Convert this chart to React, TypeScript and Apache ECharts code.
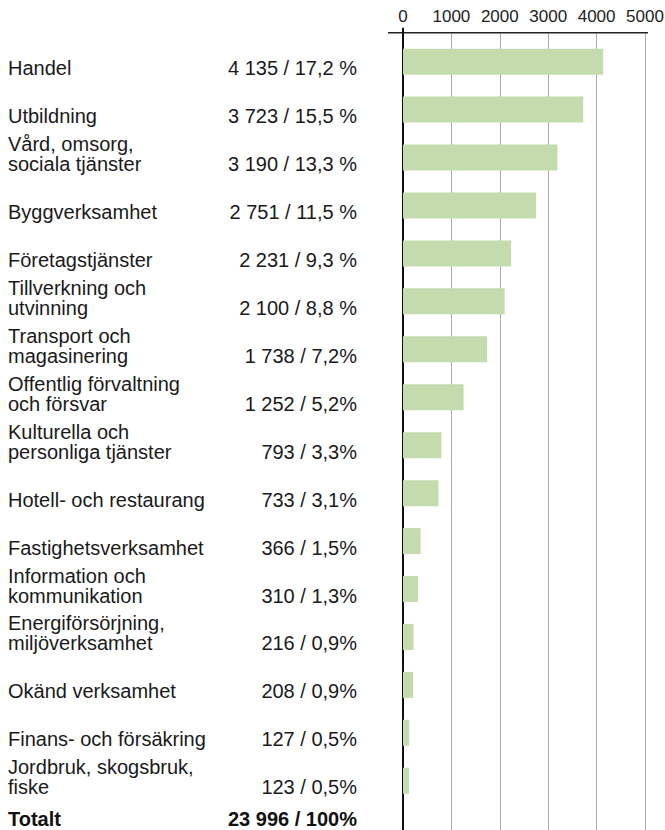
import React, { useEffect, useRef } from "react";
import * as echarts from "echarts";

const categories: string[] = [
  "Handel",
  "Utbildning",
  "Vård, omsorg,\nsociala tjänster",
  "Byggverksamhet",
  "Företagstjänster",
  "Tillverkning och\nutvinning",
  "Transport och\nmagasinering",
  "Offentlig förvaltning\noch försvar",
  "Kulturella och\npersonliga tjänster",
  "Hotell- och restaurang",
  "Fastighetsverksamhet",
  "Information och\nkommunikation",
  "Energiförsörjning,\nmiljöverksamhet",
  "Okänd verksamhet",
  "Finans- och försäkring",
  "Jordbruk, skogsbruk,\nfiske",
];
const values: number[] = [4135, 3723, 3190, 2751, 2231, 2100, 1738, 1252, 793, 733, 366, 310, 216, 208, 127, 123];
const percentLabels: string[] = [
  "17,2 %", "15,5 %", "13,3 %", "11,5 %", "9,3 %", "8,8 %", "7,2%", "5,2%",
  "3,3%", "3,1%", "1,5%", "1,3%", "0,9%", "0,9%", "0,5%", "0,5%",
];
const totalLabel = "Totalt";
const totalValue = 23996;
const totalPercent = "100%";
const xTicks = { min: 0, max: 5000, interval: 1000 };

const fmt = (v: number) => {
  const s = String(v);
  return s.replace(/\B(?=(\d{3})+(?!\d))/g, " ");
};

export default function App() {
  const ref = useRef<HTMLDivElement>(null);
  useEffect(() => {
    if (!ref.current) return;
    const chart = echarts.init(ref.current, undefined, { renderer: "svg" });
    const yCats = [...categories, totalLabel];
    const labelMap: Record<string, string> = {};
    categories.forEach((c, i) => {
      const lines = c.split("\n");
      const val = `${fmt(values[i])} / ${percentLabels[i]}`;
      if (lines.length === 1) {
        labelMap[c] = `{name| }\n{name|${lines[0]}}{val|${val}}`;
      } else {
        labelMap[c] = `{name|${lines[0]}}\n{name|${lines[1]}}{val|${val}}`;
      }
    });
    labelMap[totalLabel] = `{tname|${totalLabel}}{tval|${fmt(totalValue)} / ${totalPercent}}\n{gap| }`;

    const font = "'Liberation Sans', Arial, sans-serif";
    const top = 37.7;
    const slot = 47.94;
    chart.setOption({
      animation: false,
      backgroundColor: "#ffffff",
      grid: {
        left: 403,
        top: top,
        width: 242,
        height: slot * yCats.length,
        containLabel: false,
        outerBoundsMode: "none",
      },
      xAxis: {
        type: "value",
        position: "top",
        min: xTicks.min,
        max: xTicks.max,
        interval: xTicks.interval,
        offset: 5,
        axisLine: { show: false },
        axisTick: { show: true, inside: true, length: 5, lineStyle: { color: "#ababab", width: 1 } },
        axisLabel: {
          fontFamily: font,
          fontSize: 17,
          color: "#222",
          margin: 8,
          formatter: (v: number) => String(v),
        },
        splitLine: { show: true, lineStyle: { color: "#ababab", width: 1 } },
      },
      yAxis: {
        type: "category",
        inverse: true,
        data: yCats,
        axisLine: { show: true, lineStyle: { color: "#111", width: 2 } },
        axisTick: { show: false },
        splitLine: { show: false },
        axisLabel: {
          align: "left",
          verticalAlign: "middle",
          margin: 395,
          padding: [0, 0, 7, 0],
          formatter: (v: string) => labelMap[v],
          rich: {
            name: { fontFamily: font, fontSize: 20, lineHeight: 20, color: "#1a1a1a", width: 210, align: "left" },
            val: { fontFamily: font, fontSize: 20, lineHeight: 20, color: "#1a1a1a", width: 139, align: "right" },
            tname: { fontFamily: font, fontSize: 20, lineHeight: 20, fontWeight: "bold", color: "#111", width: 210, align: "left" },
            tval: { fontFamily: font, fontSize: 20, lineHeight: 20, fontWeight: "bold", color: "#111", width: 139, align: "right" },
            gap: { fontFamily: font, fontSize: 10, lineHeight: 13, width: 10 },
          },
        },
      },
      series: [
        {
          type: "bar",
          data: [...values, null],
          barWidth: 26,
          itemStyle: { color: "#c4dbae" },
          silent: true,
        },
      ],
      graphic: [
        {
          type: "line",
          z: 100,
          shape: { x1: 388, y1: 32.7, x2: 648, y2: 32.7 },
          style: { stroke: "#222", lineWidth: 1.5 },
        },
        {
          type: "line",
          z: 100,
          shape: { x1: 403, y1: 27.7, x2: 403, y2: top + 1 },
          style: { stroke: "#111", lineWidth: 2 },
        },
      ],
    });
    return () => chart.dispose();
  }, []);
  return (
    <div
      ref={ref}
      style={{ position: "fixed", left: 0, top: 0, width: 665, height: 870, background: "#fff" }}
    />
  );
}
